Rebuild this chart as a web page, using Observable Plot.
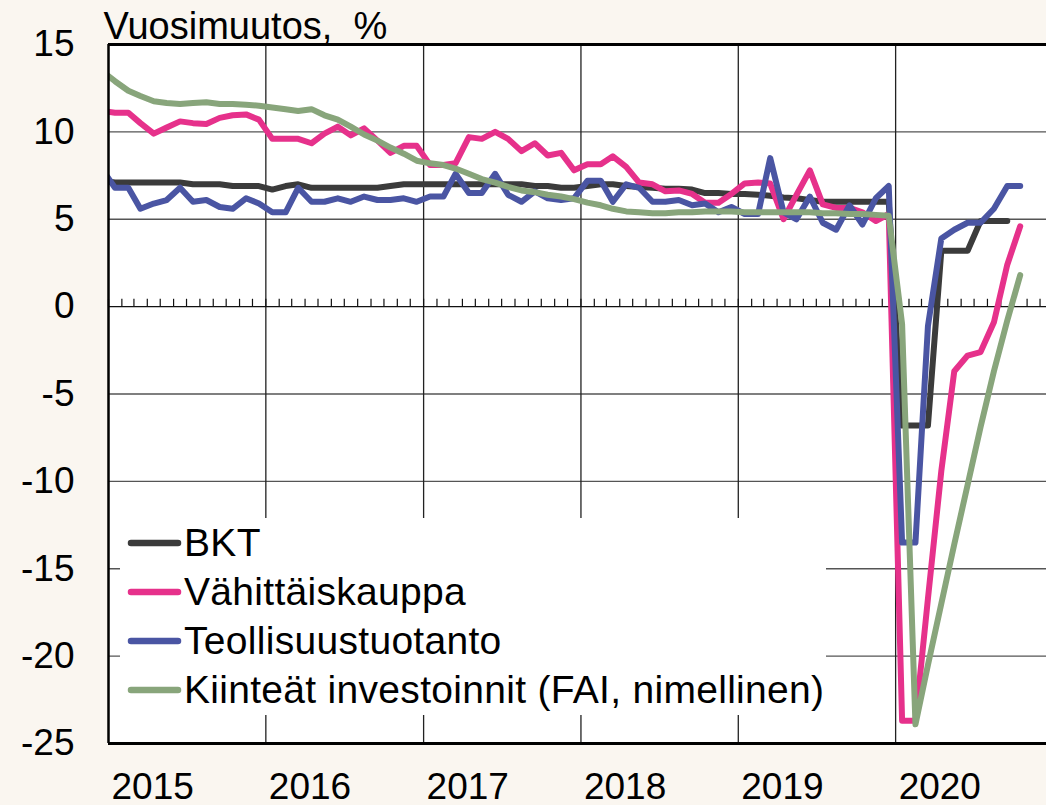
<!DOCTYPE html>
<html><head><meta charset="utf-8">
<script src="https://cdn.jsdelivr.net/npm/d3@7"></script>
<script src="https://cdn.jsdelivr.net/npm/@observablehq/plot@0.6"></script>
<style>
html,body{margin:0;padding:0;background:#faf6f0;}
#wrap{position:relative;width:1046px;height:805px;overflow:hidden;font-family:"Liberation Sans",Arial,sans-serif;}
#wrap svg{display:block;}
#legendLayer{position:absolute;left:0;top:0;pointer-events:none;}
</style></head>
<body><div id="wrap"></div>
<script>
// ---- data (monthly, Dec 2014 .. Oct 2020) ----
const seriesNames = ["BKT", "Vähittäiskauppa", "Teollisuustuotanto", "Kiinteät investoinnit (FAI, nimellinen)"];
const seriesColors = ["#3b3b3b", "#e6318b", "#4a55a3", "#88a57b"];
const firstYear = 2014, firstMonth = 11; // December 2014

const bkt = [7.2,
  7.1,7.1,7.1,7.1,7.1,7.1,7.0,7.0,7.0,6.9,6.9,6.9,
  6.7,6.9,7.0,6.8,6.8,6.8,6.8,6.8,6.8,6.9,7.0,7.0,
  7.0,7.0,7.0,7.0,7.0,7.0,7.0,7.0,6.9,6.9,6.8,6.8,
  6.9,7.0,7.0,6.9,6.85,6.8,6.75,6.75,6.7,6.5,6.5,6.45,
  6.45,6.4,6.35,6.25,6.2,6.1,6.0,6.0,6.0,6.0,6.0,6.0,
  -6.8,-6.8,-6.8,3.2,3.2,3.2,4.9,4.9,4.9,null];

const vahittais = [11.2,
  11.1,11.1,10.5,9.9,10.25,10.6,10.5,10.45,10.8,10.95,11.0,10.7,
  9.6,9.6,9.6,9.35,9.9,10.3,9.8,10.2,9.5,8.8,9.2,9.2,
  8.1,8.1,8.2,9.7,9.6,10.0,9.6,8.9,9.35,8.65,8.8,7.8,
  8.15,8.15,8.6,8.0,7.1,7.0,6.6,6.65,6.45,5.95,5.95,6.45,
  7.05,7.1,7.05,5.0,6.4,7.8,5.85,5.65,5.65,5.4,4.9,5.3,
  -23.7,-23.7,-16.7,-9.4,-3.7,-2.8,-2.6,-0.9,2.4,4.6];

const teollisuus = [7.9,
  6.8,6.8,5.6,5.9,6.1,6.8,6.0,6.1,5.7,5.6,6.2,5.9,
  5.4,5.4,6.8,6.0,6.0,6.2,6.0,6.3,6.1,6.1,6.2,6.0,
  6.3,6.3,7.6,6.5,6.5,7.6,6.4,6.0,6.6,6.2,6.1,6.2,
  7.2,7.2,6.0,7.0,6.8,6.0,6.0,6.1,5.8,5.9,5.4,5.7,
  5.3,5.3,8.5,5.4,5.0,6.3,4.8,4.4,5.8,4.7,6.2,6.9,
  -13.5,-13.5,-1.1,3.9,4.4,4.8,4.8,5.6,6.9,6.9];

const investoinnit = [13.5,
  12.9,12.35,12.05,11.75,11.65,11.6,11.65,11.7,11.6,11.6,11.55,11.5,
  11.4,11.3,11.2,11.3,10.95,10.7,10.3,9.85,9.5,9.1,8.75,8.35,
  8.2,8.1,7.9,7.6,7.3,7.1,6.85,6.65,6.55,6.4,6.3,6.15,
  5.95,5.8,5.6,5.45,5.4,5.35,5.35,5.4,5.4,5.45,5.45,5.45,
  5.4,5.4,5.4,5.4,5.4,5.4,5.35,5.35,5.3,5.3,5.25,5.2,
  -1.0,-23.9,-20.5,-17.0,-13.6,-10.2,-6.9,-3.7,-0.8,1.8];

const yTicks = [-25,-20,-15,-10,-5,0,5,10,15];
const yearLabels = [2015,2016,2017,2018,2019,2020];
const titleText = "Vuosimuutos,\u00A0\u00A0%";

// ---- build table ----
const allSeries = [bkt, vahittais, teollisuus, investoinnit];
const dates = bkt.map((_, i) => new Date(Date.UTC(firstYear, firstMonth + i, 16)));
const rows = [];
allSeries.forEach((vals, s) => vals.forEach((v, i) => {
  rows.push({date: dates[i], value: v, series: seriesNames[s]});
}));
const yearStarts = yearLabels.map(y => new Date(Date.UTC(y, 0, 1)));
const monthStarts = d3.utcMonth.range(new Date(Date.UTC(2015,0,1)), new Date(Date.UTC(2021,0,1)));
const xDomain = [new Date(Date.UTC(2015,0,1)), new Date(Date.UTC(2020,11,16))];

const font = "Liberation Sans, Arial, sans-serif";

const chart = Plot.plot({
  width: 1046,
  height: 805,
  marginLeft: 108,
  marginRight: 0,
  marginTop: 44,
  marginBottom: 62,
  style: {background: "#faf6f0", fontFamily: font, color: "#000", overflow: "visible"},
  x: {type: "utc", domain: xDomain, label: null},
  y: {domain: [-25, 15], label: null},
  color: {domain: seriesNames, range: seriesColors},
  marks: [
    Plot.frame({fill: "white", stroke: "none"}),
    Plot.ruleY(yTicks.filter(d => d !== 0 && d !== 15 && d !== -25), {stroke: "#555", strokeWidth: 1.3}),
    Plot.ruleX(yearStarts.slice(1), {stroke: "#222", strokeWidth: 1.3}),
    Plot.ruleX(monthStarts, {y1: 0, y2: 0.42, stroke: "#111", strokeWidth: 1.2}),
    Plot.ruleY([0], {stroke: "#111", strokeWidth: 1.4}),
    Plot.lineY(rows, {x: "date", y: "value", z: "series", stroke: "series",
      strokeWidth: 6, strokeLinejoin: "round", strokeLinecap: "round", clip: true}),
    Plot.ruleY([15], {stroke: "#000", strokeWidth: 3}),
    Plot.ruleY([-25], {stroke: "#000", strokeWidth: 3}),
    Plot.ruleX([xDomain[0]], {stroke: "#000", strokeWidth: 2.5}),
    Plot.axisY({ticks: yTicks, tickSize: 0, tickPadding: 34, fontSize: 37,
      tickFormat: d => String(d), fill: "#000", label: null}),
    Plot.axisX({ticks: yearStarts, tickSize: 0, tickPadding: 29, fontSize: 37,
      textAnchor: "start", dx: 3, tickFormat: d3.utcFormat("%Y"), fill: "#000", label: null}),
    Plot.text([titleText], {frameAnchor: "top-left", textAnchor: "start", lineAnchor: "bottom",
      dx: -5, dy: -6, fontSize: 38, fill: "#000"})
  ]
});

const wrap = document.getElementById("wrap");
wrap.appendChild(chart);

// ---- legend (overlay inside plot area) ----
const leg = d3.select(wrap).append("svg")
  .attr("id", "legendLayer")
  .attr("width", 1046).attr("height", 805);
leg.append("rect").attr("x", 120).attr("y", 518).attr("width", 706).attr("height", 197).attr("fill", "white");
seriesNames.forEach((name, i) => {
  const cy = 543 + i * 49;
  leg.append("line").attr("x1", 131).attr("x2", 178).attr("y1", cy).attr("y2", cy)
    .attr("stroke", seriesColors[i]).attr("stroke-width", 6.5).attr("stroke-linecap", "round");
  leg.append("text").attr("x", 184).attr("y", cy + 13)
    .attr("font-family", font).attr("font-size", 39).attr("letter-spacing", 0.3)
    .attr("fill", "#000").text(name);
});
</script>
</body></html>
